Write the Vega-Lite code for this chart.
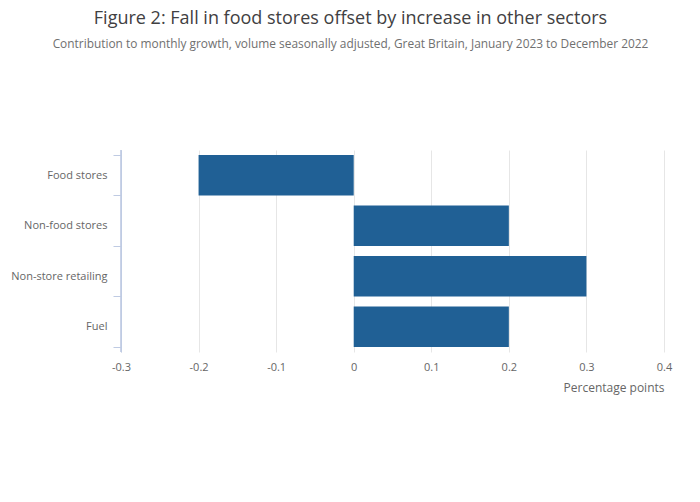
{
  "$schema": "https://vega.github.io/schema/vega-lite/v6.json",
  "autosize": {"type": "none"},
  "width": 543,
  "height": 202,
  "padding": {"left": 121, "top": 150, "right": 36, "bottom": 150},
  "title": {
    "text": "Figure 2: Fall in food stores offset by increase in other sectors",
    "subtitle": "Contribution to monthly growth, volume seasonally adjusted, Great Britain, January 2023 to December 2022",
    "anchor": "middle",
    "dx": -42,
    "offset": 94,
    "font": "Open Sans",
    "fontSize": 18,
    "fontWeight": "normal",
    "color": "#414042",
    "subtitleFont": "Open Sans",
    "subtitleFontSize": 11.9,
    "subtitleColor": "#707070",
    "subtitlePadding": 11
  },
  "config": {
    "view": {"stroke": null},
    "font": "Open Sans"
  },
  "data": {
    "values": [
      {"sector": "Food stores", "value": -0.2},
      {"sector": "Non-food stores", "value": 0.2},
      {"sector": "Non-store retailing", "value": 0.3},
      {"sector": "Fuel", "value": 0.2}
    ]
  },
  "layer": [
    {
      "mark": {"type": "bar", "color": "#206095"},
      "encoding": {
        "y": {
          "field": "sector",
          "type": "nominal",
          "sort": null,
          "scale": {"paddingInner": 0.2, "paddingOuter": 0.1},
          "axis": {
            "title": null,
            "zindex": 1,
            "domain": true,
            "domainColor": "#bfcbe3",
            "domainWidth": 1,
            "tickColor": "#bfcbe3",
            "tickSize": 8,
            "tickBand": "extent",
            "labelPadding": 6,
            "labelFontSize": 11,
            "labelColor": "#666666",
            "labelFont": "Open Sans",
            "grid": false
          }
        },
        "x": {
          "field": "value",
          "type": "quantitative",
          "scale": {"domain": [-0.3, 0.4], "nice": false},
          "axis": {
            "values": [-0.3, -0.2, -0.1, 0, 0.1, 0.2, 0.3, 0.4],
            "labelExpr": "replace(format(datum.value, '~g'), '−', '-')",
            "labelFlush": false,
            "title": "Percentage points",
            "titleAnchor": "end",
            "titleAlign": "right",
            "titleFontSize": 12,
            "titleFontWeight": "normal",
            "titleColor": "#666666",
            "titlePadding": 10,
            "titleFont": "Open Sans",
            "domain": false,
            "ticks": false,
            "labelPadding": 9,
            "labelFontSize": 11,
            "labelColor": "#666666",
            "labelFont": "Open Sans",
            "gridColor": "#e6e6e6"
          }
        }
      }
    },
    {
      "mark": {"type": "rule", "color": "#c6d0e6", "strokeWidth": 1},
      "encoding": {"x": {"datum": -0.3}}
    }
  ]
}
